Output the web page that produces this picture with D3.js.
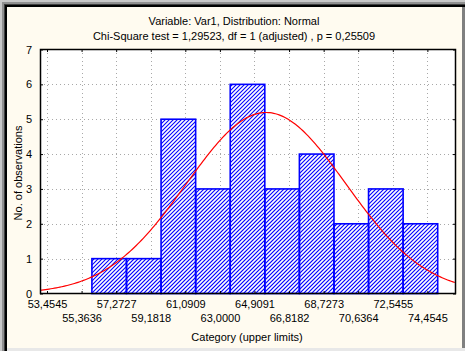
<!DOCTYPE html>
<html>
<head>
<meta charset="utf-8">
<script src="https://cdn.jsdelivr.net/npm/d3@7"></script>
<style>
  html, body { margin: 0; padding: 0; background: #d4d0c8; }
  svg { display: block; }
  text { font-family: "Liberation Sans", Arial, sans-serif; font-size: 11px; fill: #000; }
</style>
</head>
<body>
<div id="chart"></div>
<script>
// category upper limits (tick labels)
const upperLimits = [53.4545, 55.3636, 57.2727, 59.1818, 61.0909, 63.0000,
                     64.9091, 66.8182, 68.7273, 70.6364, 72.5455, 74.4545];
const tickLabels = ["53,4545", "55,3636", "57,2727", "59,1818", "61,0909", "63,0000",
                    "64,9091", "66,8182", "68,7273", "70,6364", "72,5455", "74,4545"];
// observed counts, one per bin (bins end at upperLimits[1..11])
const counts = [1, 1, 5, 3, 6, 3, 4, 2, 3, 2];
const yTicks = [0, 1, 2, 3, 4, 5, 6, 7];
// fitted normal parameters
const fitMean = 65.55;
const fitSd = 4.40;

const W = 465, H = 351;
const margin = {left: 40, right: 9, top: 49, bottom: 57};
const binShift = 0.57;   // bars sit slightly right of the labels in the original

const svg = d3.select("#chart").append("svg").attr("width", W).attr("height", H);

// window frame
svg.append("rect").attr("width", W).attr("height", H).attr("fill", "#c8c8c8");
svg.append("rect").attr("x", 2).attr("y", 2).attr("width", W - 2).attr("height", H - 2).attr("fill", "#909090");
svg.append("rect").attr("x", 4).attr("y", 4).attr("width", W - 4).attr("height", H - 4).attr("fill", "#404040");
svg.append("rect").attr("x", 5).attr("y", 5).attr("width", W - 5).attr("height", H - 5).attr("fill", "#000");
svg.append("rect").attr("x", 7).attr("y", 7).attr("width", W - 7).attr("height", H - 7).attr("fill", "#808080");
svg.append("rect").attr("x", 7).attr("y", H - 3).attr("width", W - 7).attr("height", 3).attr("fill", "#e8e8e8");
svg.append("rect").attr("x", 7).attr("y", 7).attr("width", 455).attr("height", H - 10).attr("fill", "#fffbf0");

const step = 1.90909;
const pxPerUnit = 34.58 / step;
const x = d3.scaleLinear()
  .domain([upperLimits[0] - 7 / pxPerUnit, upperLimits[0] + 409 / pxPerUnit])
  .range([margin.left, W - margin.right]);
const y = d3.scaleLinear().domain([0, 7]).range([H - margin.bottom - 0.5, margin.top + 0.5]);

const x0 = margin.left, x1 = W - margin.right;
const y0 = H - margin.bottom, y1 = margin.top;

// plot background
svg.append("rect").attr("x", x0).attr("y", y1).attr("width", x1 - x0).attr("height", y0 - y1).attr("fill", "#fff");

// grid
const grid = svg.append("g").attr("stroke", "#a8a8a8").attr("stroke-dasharray", "1,3").attr("shape-rendering", "crispEdges");
grid.selectAll("line.v").data(upperLimits).join("line")
  .attr("x1", d => Math.round(x(d)) + 0.5).attr("x2", d => Math.round(x(d)) + 0.5)
  .attr("y1", y1).attr("y2", y0);
grid.selectAll("line.h").data(yTicks.slice(1, -1)).join("line")
  .attr("y1", d => Math.round(y(d)) + 0.5).attr("y2", d => Math.round(y(d)) + 0.5)
  .attr("x1", x0).attr("x2", x1);

// bars
const bins = counts.map((c, i) => ({lo: upperLimits[i + 1] + binShift, hi: upperLimits[i + 2] + binShift, c}));
const clip = svg.append("defs").append("clipPath").attr("id", "barclip");
clip.selectAll("rect").data(bins).join("rect")
  .attr("x", d => x(d.lo)).attr("width", d => x(d.hi) - x(d.lo))
  .attr("y", d => y(d.c)).attr("height", d => y(0) - y(d.c));

const barG = svg.append("g");
barG.selectAll("rect").data(bins).join("rect")
  .attr("x", d => x(d.lo)).attr("width", d => x(d.hi) - x(d.lo))
  .attr("y", d => y(d.c)).attr("height", d => y(0) - y(d.c))
  .attr("fill", "#fff");
// diagonal hatch lines, clipped to the bars
const hatchOffsets = d3.range(x0 - (y0 - y1), x1 + 4, 4);
barG.append("g").attr("clip-path", "url(#barclip)")
  .selectAll("line").data(hatchOffsets).join("line")
  .attr("x1", d => d).attr("y1", y0).attr("x2", d => d + (y0 - y1)).attr("y2", y1)
  .attr("stroke", "#0000ff").attr("stroke-width", 1.1);
barG.selectAll("rect.outline").data(bins).join("rect").attr("class", "outline")
  .attr("x", d => x(d.lo)).attr("width", d => x(d.hi) - x(d.lo))
  .attr("y", d => y(d.c)).attr("height", d => y(0) - y(d.c))
  .attr("fill", "none").attr("stroke", "#0000ff").attr("stroke-width", 1.6);

// normal curve
const totalN = d3.sum(counts);
const curveX = d3.range(x.domain()[0], x.domain()[1] + 0.001, 0.1);
const curve = curveX.map(v => [v, totalN * step / (fitSd * Math.sqrt(2 * Math.PI)) * Math.exp(-0.5 * ((v - fitMean) / fitSd) ** 2)]);
svg.append("path").datum(curve)
  .attr("fill", "none").attr("stroke", "#ff0000").attr("stroke-width", 1.2)
  .attr("d", d3.line().x(d => x(d[0])).y(d => y(d[1])));

// frame
svg.append("rect").attr("x", x0 + 0.5).attr("y", y1 + 0.5).attr("width", x1 - x0 - 1).attr("height", y0 - y1 - 1)
  .attr("fill", "none").attr("stroke", "#000").attr("stroke-width", 1.5);

// axes
const xAxis = svg.append("g").attr("transform", `translate(0,${y0})`)
  .call(d3.axisBottom(x).tickValues(upperLimits).tickSize(-3).tickPadding(0).tickFormat((d, i) => tickLabels[i]));
xAxis.select(".domain").remove();
xAxis.selectAll("text").attr("dy", (d, i) => i % 2 === 0 ? 14 : 28).style("font-size", "11px")
  .style("font-family", "'Liberation Sans', Arial, sans-serif");

const xTop = svg.append("g").attr("transform", `translate(0,${y1})`)
  .call(d3.axisTop(x).tickValues(upperLimits).tickSize(-3).tickFormat(""));
xTop.select(".domain").remove();

const yAxis = svg.append("g").attr("transform", `translate(${x0},0)`)
  .call(d3.axisLeft(y).tickValues(yTicks).tickSize(-3).tickPadding(8).tickFormat(d3.format("d")));
yAxis.select(".domain").remove();
yAxis.selectAll("text").style("font-size", "11px").style("font-family", "'Liberation Sans', Arial, sans-serif");

const yRight = svg.append("g").attr("transform", `translate(${x1},0)`)
  .call(d3.axisRight(y).tickValues(yTicks).tickSize(-3).tickFormat(""));
yRight.select(".domain").remove();

// titles
svg.append("text").attr("x", 234).attr("y", 24.5).attr("text-anchor", "middle").text("Variable: Var1, Distribution: Normal");
svg.append("text").attr("x", 234).attr("y", 39.5).attr("text-anchor", "middle").text("Chi-Square test = 1,29523, df = 1 (adjusted) , p = 0,25509");
svg.append("text").attr("x", 247).attr("y", 341).attr("text-anchor", "middle").text("Category (upper limits)");
svg.append("text").attr("transform", "translate(22,173) rotate(-90)").attr("text-anchor", "middle").text("No. of observations");
</script>
</body>
</html>
